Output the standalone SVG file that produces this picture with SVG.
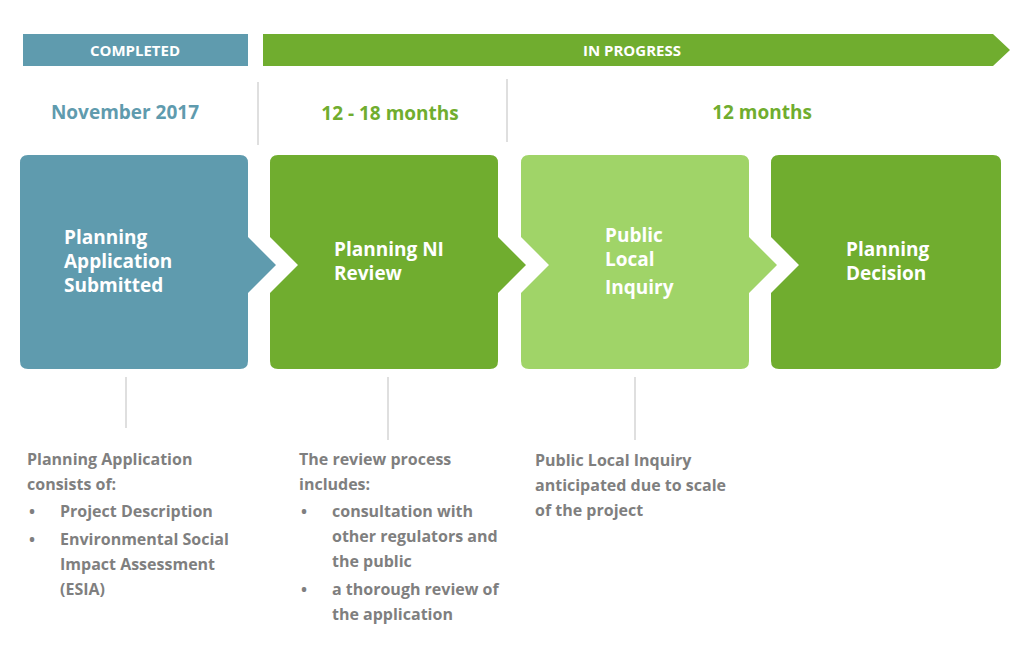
<svg xmlns="http://www.w3.org/2000/svg" width="1024" height="659" viewBox="0 0 1024 659">
<style>
text{font-family:"Open Sans","Liberation Sans",sans-serif;font-weight:bold}
.w{fill:#fff;font-size:19px}
.bar{fill:#fff;font-size:15px;text-anchor:middle}
.h{font-size:19px;text-anchor:middle}
.g{fill:#7F7F7F;font-size:16px}
.ln{stroke:#BFBFBF;stroke-width:1}
</style>
<rect width="1024" height="659" fill="#fff"/>
<g id="bar-completed"><rect x="23" y="34" width="225" height="32" fill="#5F9BAE"/><text class="bar" x="135" y="56">COMPLETED</text></g>
<g id="bar-progress"><path d="M263 34H993L1010 50L993 66H263Z" fill="#70AD2F"/><text class="bar" x="632" y="56">IN PROGRESS</text></g>
<text class="h" x="125" y="119" fill="#5F9BAE">November 2017</text>
<text class="h" x="390" y="120" fill="#70AD2F">12 - 18 months</text>
<text class="h" x="762" y="119" fill="#70AD2F">12 months</text>
<g id="connectors">
<line class="ln" x1="258" y1="82" x2="258" y2="145"/>
<line class="ln" x1="507" y1="79" x2="507" y2="142"/>
<line class="ln" x1="126" y1="377" x2="126" y2="428"/>
<line class="ln" x1="388" y1="377" x2="388" y2="440"/>
<line class="ln" x1="635" y1="377" x2="635" y2="440"/>
</g>
<g id="node1"><path d="M28 155H240Q248 155 248 163V237L276 265L248 293V361Q248 369 240 369H28Q20 369 20 361V163Q20 155 28 155Z" fill="#5F9BAE"/>
<text class="w" x="64" y="244">Planning</text><text class="w" x="64" y="268">Application</text><text class="w" x="64" y="292">Submitted</text></g>
<g id="node2"><path d="M278 155H490Q498 155 498 163V237L526 265L498 293V361Q498 369 490 369H278Q270 369 270 361V293L298 265L270 237V163Q270 155 278 155Z" fill="#70AD2F"/>
<text class="w" x="334" y="256">Planning NI</text><text class="w" x="334" y="280">Review</text></g>
<g id="node3"><path d="M529 155H741Q749 155 749 163V237L777 265L749 293V361Q749 369 741 369H529Q521 369 521 361V293L549 265L521 237V163Q521 155 529 155Z" fill="#A0D468"/>
<text class="w" x="605" y="242">Public</text><text class="w" x="605" y="266">Local</text><text class="w" x="605" y="294">Inquiry</text></g>
<g id="node4"><path d="M779 155H993Q1001 155 1001 163V361Q1001 369 993 369H779Q771 369 771 361V293L799 265L771 237V163Q771 155 779 155Z" fill="#70AD2F"/>
<text class="w" x="846" y="256">Planning</text><text class="w" x="846" y="280">Decision</text></g>
<g id="note1">
<text class="g" x="27" y="465">Planning Application</text><text class="g" x="27" y="490">consists of:</text>
<text class="g" x="29" y="517">•</text><text class="g" x="60" y="517">Project Description</text>
<text class="g" x="29" y="545">•</text><text class="g" x="60" y="545">Environmental Social</text>
<text class="g" x="60" y="570">Impact Assessment</text><text class="g" x="60" y="595">(ESIA)</text>
</g>
<g id="note2">
<text class="g" x="299" y="465">The review process</text><text class="g" x="299" y="490">includes:</text>
<text class="g" x="301" y="517">•</text><text class="g" x="332" y="517">consultation with</text>
<text class="g" x="332" y="542">other regulators and</text><text class="g" x="332" y="567">the public</text>
<text class="g" x="301" y="595">•</text><text class="g" x="332" y="595">a thorough review of</text>
<text class="g" x="332" y="620">the application</text>
</g>
<g id="note3">
<text class="g" x="535" y="466">Public Local Inquiry</text><text class="g" x="535" y="491">anticipated due to scale</text><text class="g" x="535" y="516">of the project</text>
</g>
</svg>
